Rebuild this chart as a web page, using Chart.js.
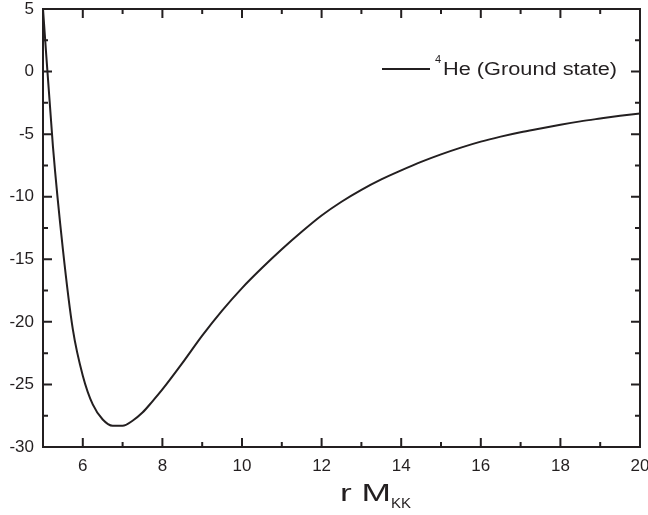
<!DOCTYPE html>
<html lang="en">
<head>
  <meta charset="UTF-8">
  <title>4He ground state potential</title>
  <script src="https://cdn.jsdelivr.net/npm/chart.js"></script>
  <style>
    body { margin: 0; background: #fff; }
  </style>
</head>
<body>
  <canvas id="potChart" width="648" height="515"></canvas>

  <script>
    // r * M_KK values and the potential at each point
    const rValues = [
      5, 5.25, 5.5, 5.75, 6, 6.25, 6.5, 6.75, 7, 7.25, 7.5, 7.75,
      8, 8.5, 9, 9.5, 10, 10.5, 11, 11.5, 12, 12.5, 13, 13.5,
      14, 14.5, 15, 15.5, 16, 16.5, 17, 17.5, 18, 18.5, 19, 19.5, 20
    ];
    const groundState = [
      5, -6, -14.2, -20.6, -24.3, -26.6, -27.8, -28.3, -28.3, -27.9, -27.25, -26.35,
      -25.4, -23.3, -21.1, -19.1, -17.3, -15.7, -14.2, -12.8, -11.5, -10.4, -9.45, -8.62,
      -7.9, -7.22, -6.62, -6.08, -5.6, -5.2, -4.85, -4.55, -4.25, -3.98, -3.75, -3.53, -3.34
    ];

    // axis ticks
    const xTickLabels = [6, 8, 10, 12, 14, 16, 18, 20];
    const xMinorTicks = [5, 7, 9, 11, 13, 15, 17, 19];
    const yTickLabels = [5, 0, -5, -10, -15, -20, -25, -30];
    const yMinorTicks = [2.5, -2.5, -7.5, -12.5, -17.5, -22.5, -27.5];

    const ink = '#231f20';
    const fontFamily = '"Liberation Sans", Arial, sans-serif';

    // text squeezed/stretched horizontally to a given width
    function fitText(ctx, text, x, y, width) {
      const w = ctx.measureText(text).width;
      ctx.save();
      ctx.translate(x, y);
      ctx.scale(width / w, 1);
      ctx.fillText(text, 0, 0);
      ctx.restore();
    }

    // frame, inward ticks on all four sides, legend and axis title
    const framePlugin = {
      id: 'frame',
      afterDraw(chart) {
        const { ctx, chartArea: a, scales } = chart;
        const xs = scales.x, ys = scales.y;
        ctx.save();
        ctx.strokeStyle = ink;
        ctx.lineWidth = 2;
        ctx.strokeRect(a.left, a.top, a.right - a.left, a.bottom - a.top);

        ctx.beginPath();
        const xTick = (v, len) => {
          const px = xs.getPixelForValue(v);
          ctx.moveTo(px, a.bottom); ctx.lineTo(px, a.bottom - len);
          ctx.moveTo(px, a.top); ctx.lineTo(px, a.top + len);
        };
        const yTick = (v, len) => {
          const py = ys.getPixelForValue(v);
          ctx.moveTo(a.left, py); ctx.lineTo(a.left + len, py);
          ctx.moveTo(a.right, py); ctx.lineTo(a.right - len, py);
        };
        xTickLabels.forEach(v => xTick(v, 9));
        xMinorTicks.forEach(v => xTick(v, 5));
        yTickLabels.forEach(v => yTick(v, 9));
        yMinorTicks.forEach(v => yTick(v, 5));
        ctx.stroke();

        // legend
        ctx.beginPath();
        ctx.moveTo(382, 69);
        ctx.lineTo(430, 69);
        ctx.stroke();
        ctx.fillStyle = ink;
        ctx.textBaseline = 'alphabetic';
        ctx.textAlign = 'left';
        ctx.font = '11px ' + fontFamily;
        ctx.fillText('4', 435, 63);
        ctx.font = '18px ' + fontFamily;
        fitText(ctx, 'He (Ground state)', 443, 75, 174);

        // x axis title with subscript
        ctx.font = '24px ' + fontFamily;
        fitText(ctx, 'r M', 340, 501, 51);
        ctx.font = '15px ' + fontFamily;
        fitText(ctx, 'KK', 391, 508, 20);
        ctx.restore();
      }
    };

    const ctx = document.getElementById('potChart').getContext('2d');

    new Chart(ctx, {
      type: 'line',
      data: {
        datasets: [{
          label: '4He (Ground state)',
          data: rValues.map((r, i) => ({ x: r, y: groundState[i] })),
          borderColor: ink,
          borderWidth: 2,
          pointRadius: 0,
          cubicInterpolationMode: 'monotone',
          fill: false
        }]
      },
      options: {
        responsive: false,
        animation: false,
        layout: { padding: { top: 9, right: 8, left: 0, bottom: 0 } },
        plugins: {
          legend: { display: false },
          tooltip: { enabled: false }
        },
        scales: {
          x: {
            type: 'linear',
            min: 5,
            max: 20,
            grid: { display: false, drawTicks: false },
            border: { display: false },
            afterBuildTicks(scale) {
              scale.ticks = xTickLabels.map(v => ({ value: v }));
            },
            afterFit(scale) {
              scale.height = 68;
              scale.paddingLeft = 0;
              scale.paddingRight = 0;
            },
            ticks: {
              color: ink,
              padding: 9,
              maxRotation: 0,
              autoSkip: false,
              font: { family: fontFamily, size: 17 }
            }
          },
          y: {
            type: 'linear',
            min: -30,
            max: 5,
            grid: { display: false, drawTicks: false },
            border: { display: false },
            afterBuildTicks(scale) {
              scale.ticks = yTickLabels.map(v => ({ value: v }));
            },
            afterFit(scale) {
              scale.width = 43;
              scale.paddingTop = 0;
              scale.paddingBottom = 0;
            },
            ticks: {
              color: ink,
              padding: 9,
              autoSkip: false,
              font: { family: fontFamily, size: 17 }
            }
          }
        }
      },
      plugins: [framePlugin]
    });
  </script>
</body>
</html>
